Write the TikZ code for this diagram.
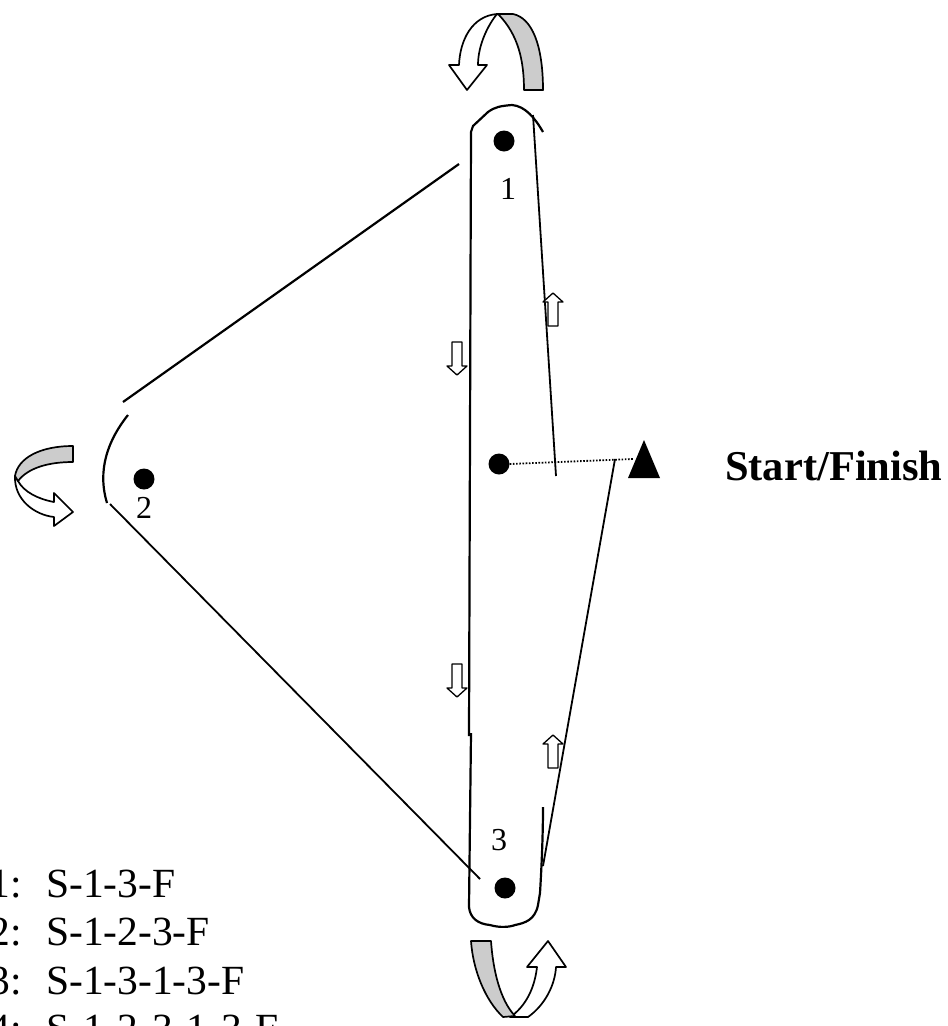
\documentclass[tikz,border=0pt]{standalone}
\usepackage{fontspec}
\setmainfont{Liberation Serif}
\definecolor{band}{RGB}{204,204,204}
\begin{document}
\begin{tikzpicture}[x=1pt,y=-1pt,line join=round,
  ln/.style={line width=2.2pt},
  thinln/.style={line width=1.8pt},
  dotnode/.style={circle,fill=black,inner sep=0pt,minimum size=21pt},
  lbl/.style={font=\fontsize{32}{32}\selectfont,inner sep=0pt},
  listfont/.style={font=\fontsize{41.5}{48}\selectfont,inner sep=0pt},
  blk/.style={draw,line width=1.3pt,fill=white},
  curved/.style={draw,line width=1.7pt},
  downarr/.pic={\path[blk] (-5,-33) -- (5,-33) -- (5,-9) -- (10,-9) -- (0,0) -- (-10,-9) -- (-5,-9) -- cycle;},
  uparr/.pic={\path[blk] (-5,33) -- (5,33) -- (5,9) -- (10,9) -- (0,0) -- (-10,9) -- (-5,9) -- cycle;}]
\useasboundingbox (0,0) rectangle (948,1026);
\clip (0,0) rectangle (948,1026);

% dots
\node[dotnode] (d1) at (504,141) {};
\node[dotnode] (d2) at (144,479) {};
\node[dotnode] (d3) at (505,888) {};
\node[dotnode] (dS) at (499,464) {};
% labels
\node[lbl] (l1) at (508,189) {1};
\node[lbl] (l2) at (144,508) {2};
\node[lbl] (l3) at (499,840) {3};

% lines between nodes
\coordinate (a1) at (459,164); \coordinate (a2) at (123,402);
\draw[ln] (a1) -- (a2);
\coordinate (b2) at (110,504); \coordinate (b3) at (480,879);
\draw[thinln] (b2) -- (b3);
% bracket at node 2
\draw[ln] (128,415) .. controls (108,440) and (97,470) .. (107,503);

% bar outline
\draw[ln] (469,736) -- (471,132) -- (473,126) -- (488,112) .. controls (495,107) and (500,106) .. (512,105) .. controls (525,106) and (535,118) .. (543,132);
\coordinate (r1) at (533,115); \coordinate (r2) at (556,476);
\draw[thinln] (r1) -- (r2);
\coordinate (s1) at (615,459); \coordinate (s2) at (543,866);
\draw[thinln] (s1) -- (s2);
\draw[ln] (471,733) -- (469,907) .. controls (470,918) and (478,924) .. (490,925) .. controls (500,928) and (510,927) .. (515,925) .. controls (525,923) and (535,920) .. (538,905) -- (540,893) .. controls (542,860) and (543,830) .. (543,807);

% start / finish
\coordinate (t) at (633,459);
\draw[line width=1.8pt,dash pattern=on 1.6pt off 1.6pt] (dS.east) -- (t);
\fill (644,440) -- (660,478) -- (628,478) -- cycle;
\node[anchor=base west,font=\bfseries\fontsize{42.5}{48}\selectfont,inner sep=0pt] (sf) at (725,480) {Start/Finish};

% small direction arrows
\pic at (457,375) {downarr};
\pic at (457,697) {downarr};
\pic at (553,293) {uparr};
\pic at (553,735) {uparr};

% top rotation arrow
\draw[curved,fill=white] (449,65) -- (459,65) .. controls (460,40) and (472,16) .. (497,14) .. controls (488,25) and (478,45) .. (478,65) -- (487,65) -- (467,90) -- cycle;
\draw[curved,fill=band] (497,14) -- (513,14) .. controls (532,18) and (543,45) .. (543,90) -- (524,90) .. controls (524,60) and (518,35) .. (499,15) -- cycle;

% bottom rotation arrow
\draw[curved,fill=white] (510,1017) -- (528,1017) .. controls (545,1005) and (555,985) .. (556,967) -- (566,967) -- (548,941) -- (527,967) -- (537,967) .. controls (535,985) and (528,1003) .. (513,1015) -- cycle;
\draw[curved,fill=band] (471,941) -- (491,941) .. controls (493,970) and (500,1000) .. (515,1016) -- (503,1017) .. controls (485,1000) and (473,970) .. (471,941) -- cycle;

% left rotation arrow
\draw[curved,fill=white] (15,476) .. controls (14,500) and (35,515) .. (54,517) -- (54,526) -- (73,512) -- (54,493) -- (54,502) .. controls (38,499) and (24,492) .. (18,481) -- cycle;
\draw[curved,fill=band] (73,446) .. controls (40,446) and (18,458) .. (15,476) -- (18,481) .. controls (28,468) and (48,462) .. (73,462) -- cycle;

% route list
\foreach \n/\s/\yy in {1/S-1-3-F/897,2/S-1-2-3-F/945.5,3/S-1-3-1-3-F/994,4/S-1-2-3-1-3-F/1042.5}{
  \node[anchor=base east,listfont] (n\n) at (22,\yy) {\n:};
  \node[anchor=base west,listfont] (s\n) at (46,\yy) {\s};
}
\end{tikzpicture}
\end{document}
